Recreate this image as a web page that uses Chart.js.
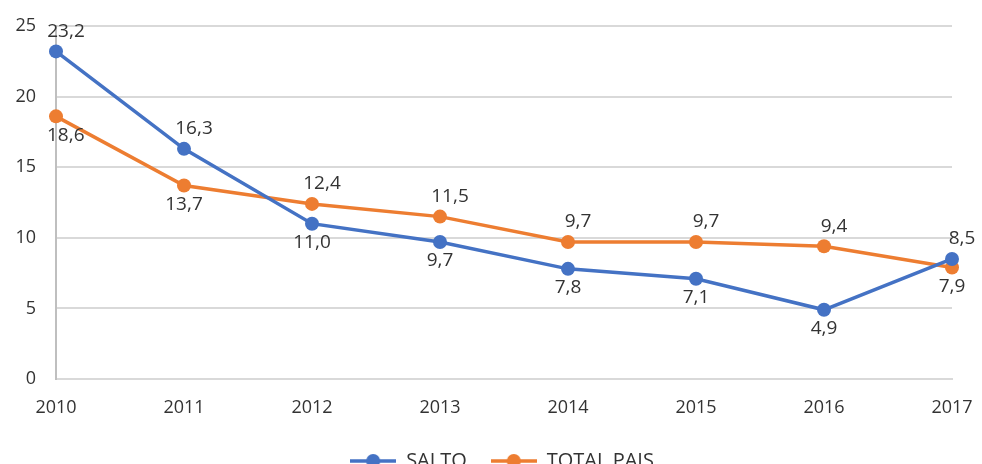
<!DOCTYPE html>
<html>
<head>
<meta charset="utf-8">
<script src="https://cdn.jsdelivr.net/npm/chart.js@4"></script>
<style>
html, body { margin: 0; padding: 0; overflow: hidden; background: #fff; }
#wrap { width: 982px; height: 481px; }
</style>
</head>
<body>
<div id="wrap"><canvas id="chart"></canvas></div>
<script>
const years = ['2010', '2011', '2012', '2013', '2014', '2015', '2016', '2017'];
const salto = [23.2, 16.3, 11.0, 9.7, 7.8, 7.1, 4.9, 8.5];
const totalPais = [18.6, 13.7, 12.4, 11.5, 9.7, 9.7, 9.4, 7.9];
const seriesNames = ['SALTO', 'TOTAL PAIS'];
const yMax = 25;
const yStep = 5;

const blue = '#4472C4';
const orange = '#ED7D31';
const textColor = '#333333';

Chart.defaults.font.family = "'Open Sans', sans-serif";
Chart.defaults.font.size = 18;
Chart.defaults.color = textColor;

// line + dot swatch for the legend, like excel does
const makeSwatch = (color) => {
    const c = document.createElement('canvas');
    c.width = 46;
    c.height = 16;
    const g = c.getContext('2d');
    g.strokeStyle = color;
    g.lineWidth = 3.5;
    g.beginPath();
    g.moveTo(0, 8);
    g.lineTo(46, 8);
    g.stroke();
    g.fillStyle = color;
    g.beginPath();
    g.arc(23, 8, 7, 0, Math.PI * 2);
    g.fill();
    return c;
};
const swatches = [makeSwatch(blue), makeSwatch(orange)];

// value labels: above the point if this series is higher, below otherwise
const valueLabels = {
    id: 'valueLabels',
    afterLayout(chart) {
        // legend sits a bit right of centre in the original
        chart.legend.left += 11;
        chart.legend.right += 11;
    },
    afterDatasetsDraw(chart) {
        const ctx = chart.ctx;
        const area = chart.chartArea;
        ctx.save();
        ctx.font = "19px 'Open Sans', sans-serif";
        ctx.fillStyle = textColor;
        ctx.textAlign = 'center';
        ctx.textBaseline = 'middle';
        chart.data.datasets.forEach((ds, i) => {
            const other = chart.data.datasets[1 - i].data;
            chart.getDatasetMeta(i).data.forEach((pt, j) => {
                const v = ds.data[j];
                const above = v > other[j];
                const txt = v.toFixed(1).replace('.', ',');
                const w = ctx.measureText(txt).width;
                let x = pt.x + (above ? 10 : 0);
                const y = pt.y + (above ? -20 : 19);
                if (x - w / 2 < area.left - 9) x = area.left - 9 + w / 2;
                if (x + w / 2 > chart.width - 4) x = chart.width - 4 - w / 2;
                ctx.fillText(txt, x, y);
            });
        });
        ctx.restore();
    }
};

var ctx = document.getElementById('chart');

var chart = new Chart(ctx, {
    type: 'line',
    data: {
        labels: years,
        datasets: [{
            label: seriesNames[0],
            data: salto,
            borderColor: blue,
            backgroundColor: blue,
            borderWidth: 3.5,
            pointRadius: 7,
            pointHoverRadius: 7,
            pointBorderWidth: 0,
            clip: false
        }, {
            label: seriesNames[1],
            data: totalPais,
            borderColor: orange,
            backgroundColor: orange,
            borderWidth: 3.5,
            pointRadius: 7,
            pointHoverRadius: 7,
            pointBorderWidth: 0,
            clip: false
        }]
    },
    options: {
        responsive: true,
        maintainAspectRatio: false,
        animation: false,
        layout: {
            padding: { top: 26, right: 0, left: 0, bottom: 0 }
        },
        scales: {
            x: {
                grid: { display: false, drawTicks: false },
                border: { display: true, color: '#d9d9d9', width: 2 },
                ticks: { padding: 18, maxRotation: 0 },
                afterFit: (scale) => {
                    scale.height = 48;
                    scale.paddingLeft = 0;
                    scale.paddingRight = 30;
                }
            },
            y: {
                min: 0,
                max: yMax,
                ticks: { stepSize: yStep, padding: 20 },
                grid: { color: '#d9d9d9', lineWidth: 2, drawTicks: false },
                border: { display: true, color: '#bfbfbf', width: 2 },
                afterFit: (scale) => {
                    scale.width = 56;
                    scale.paddingTop = 0;
                    scale.paddingBottom = 0;
                }
            }
        },
        plugins: {
            tooltip: { enabled: false },
            legend: {
                position: 'bottom',
                labels: {
                    usePointStyle: true,
                    pointStyleWidth: 46,
                    padding: 24,
                    color: textColor,
                    font: { size: 20 },
                    generateLabels: (chart) => {
                        const items = Chart.defaults.plugins.legend.labels.generateLabels(chart);
                        items.forEach((it, i) => { it.pointStyle = swatches[i]; });
                        return items;
                    }
                }
            }
        }
    },
    plugins: [valueLabels]
});
</script>
</body>
</html>
